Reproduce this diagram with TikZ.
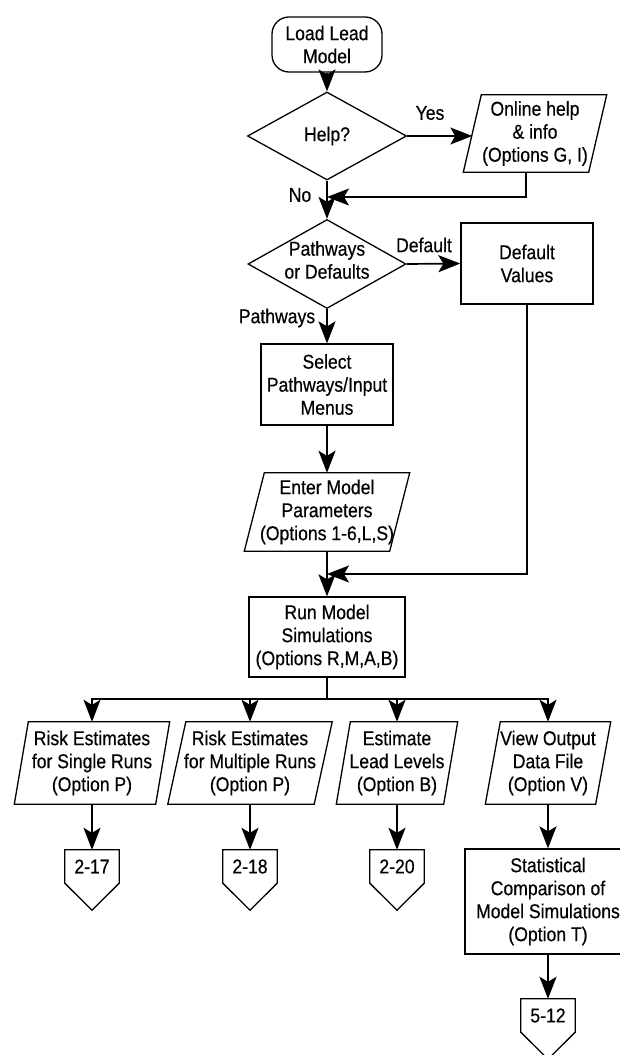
\documentclass[tikz,border=0pt]{standalone}
\usepackage{fontspec}
\setmainfont{Liberation Sans}[FakeStretch=0.88,FakeBold=0.4]
\usetikzlibrary{arrows.meta,shapes.geometric}

% parallelogram outline around an (undrawn) rectangular node; #2 = half of the slant
\newcommand\slantframe[2]{%
  \draw[boxline] ([xshift=#2]#1.north west) -- ([xshift=#2]#1.north east)
    -- ([xshift=-#2]#1.south east) -- ([xshift=-#2]#1.south west) -- cycle;}
% off-page connector: square top part is the node, point below it
\newcommand\offpage[1]{%
  \draw[boxline] (#1.south west) -- (#1.north west) -- (#1.north east)
    -- (#1.south east) -- ([yshift=-27pt]#1.south) -- cycle;}

\begin{document}
\begin{tikzpicture}[x=1pt,y=-1pt,
  every node/.style={font=\fontsize{20}{23}\selectfont, align=center, inner sep=0pt},
  boxline/.style={draw=black, line width=1.3pt},
  procbox/.style={rectangle, boxline},
  termbox/.style={rectangle, boxline, rounded corners=17pt, minimum width=110pt, minimum height=55pt},
  decision/.style={diamond, boxline},
  iobox/.style={rectangle, minimum height=82pt},
  conn/.style={rectangle, minimum width=54pt, minimum height=33pt},
  flow/.style={line width=1.7pt},
  arr/.style={flow, -{Stealth[length=22pt,width=17pt,inset=5pt]}},
  lbl/.style={font=\fontsize{20}{23}\selectfont}]

\useasboundingbox (0,0) rectangle (620,1055);
\clip (0,0) rectangle (620,1055);

% main column
\node[termbox] (load) at (327,44.5) {Load Lead\\Model};
\node[decision, minimum width=159pt, minimum height=88pt] (help) at (327,136) {};
\node (helptxt) at (help) {Help?};

\node[rectangle, minimum width=125pt, minimum height=77pt] (online) at (535,133.5)
  {Online help\\\& info\\(Options G, I)};
\slantframe{online}{9pt}

\node[decision, minimum width=158pt, minimum height=89pt] (path) at (327,264) {};
\node (pathtxt) at (327,260) {Pathways\\or Defaults};

\node[procbox, minimum width=132pt, minimum height=81pt] (defv) at (527,263.5) {Default\\Values};

\node[procbox, minimum width=132pt, minimum height=81pt] (select) at (327,384.5)
  {Select\\Pathways/Input\\Menus};

\node[rectangle, minimum width=145pt, minimum height=78pt] (enter) at (327,512)
  {Enter Model\\Parameters\\(Options 1-6,L,S)};
\slantframe{enter}{10pt}

\node[procbox, minimum width=156pt, minimum height=80pt] (run) at (327,637)
  {Run Model\\Simulations\\(Options R,M,A,B)};

% output branches
\node[iobox, minimum width=141pt] (p1) at (92,763)
  {Risk Estimates\\for Single Runs\\(Option P)};
\slantframe{p1}{7pt}
\node[iobox, minimum width=146pt] (p2) at (250,763)
  {Risk Estimates\\for Multiple Runs\\(Option P)};
\slantframe{p2}{9pt}
\node[iobox, minimum width=107pt] (p3) at (397,763)
  {Estimate\\Lead Levels\\(Option B)};
\slantframe{p3}{7pt}
\node[iobox, minimum width=110pt] (p4) at (548,763)
  {View Output\\Data File\\(Option V)};
\slantframe{p4}{7.5pt}

\node[conn] (c217) at (92,866.5) {2-17};
\offpage{c217}
\node[conn] (c218) at (250,866.5) {2-18};
\offpage{c218}
\node[conn] (c220) at (397,866.5) {2-20};
\offpage{c220}

\node[procbox, minimum width=166pt, minimum height=105pt] (stat) at (548,901.5)
  {Statistical\\Comparison of\\Model Simulations\\(Option T)};

\node[conn] (c512) at (548,1015.5) {5-12};
\offpage{c512}

% junction points
\coordinate (j1) at (327,197);
\coordinate (j2) at (327,574);
\coordinate (bj) at (327,699);

% connectors
\draw[arr] (load.south) -- (help.north);
\draw[arr] (help.east) -- (help.east -| online.west);
\draw[flow] (help.south) -- (j1);
\draw[arr] (j1) -- (path.north);
\draw[arr] ([xshift=-9pt]online.south) |- (j1);

\draw[arr] (path.east) -- (defv.west);
\draw[arr] (path.south) -- (select.north);
\draw[arr] (select.south) -- (enter.north);
\draw[flow] (enter.south) -- (j2);
\draw[arr] (j2) -- (run.north);
\draw[arr] (defv.south) |- (j2);

\draw[flow] (run.south) -- (bj);
\draw[arr] (bj) -| (p1.north);
\draw[arr] (bj) -| (p2.north);
\draw[arr] (bj) -| (p3.north);
\draw[arr] (bj) -| (p4.north);

\draw[arr] (p1.south) -- (c217.north);
\draw[arr] (p2.south) -- (c218.north);
\draw[arr] (p3.south) -- (c220.north);
\draw[arr] (p4.south) -- (stat.north);
\draw[arr] (stat.south) -- (c512.north);

% branch labels
\node[lbl] (yes) at (430,113) {Yes};
\node[lbl] (no) at (300,195) {No};
\node[lbl] (dflt) at (424,245) {Default};
\node[lbl] (pthw) at (277,318) {Pathways};

\end{tikzpicture}
\end{document}
